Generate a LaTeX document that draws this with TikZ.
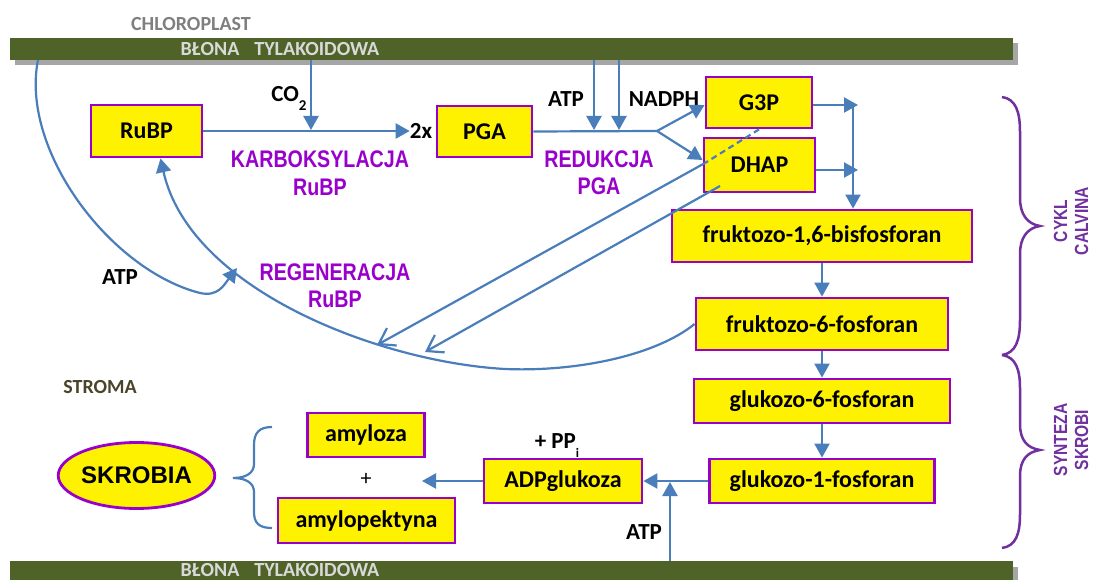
\documentclass[tikz,border=0pt]{standalone}
\usepackage{fontspec}
\setmainfont{Carlito}
\newfontfamily\arialf{Liberation Sans}
\newfontfamily\narrowf[FakeStretch=0.82]{Liberation Sans}
\usetikzlibrary{arrows.meta,shapes.geometric}
\definecolor{barg}{HTML}{4F6228}
\definecolor{shadowgray}{HTML}{A6A6A6}
\definecolor{bartxt}{HTML}{D9D9D9}
\definecolor{chlorog}{HTML}{7F7F7F}
\definecolor{stromac}{HTML}{4A452A}
\definecolor{lineblue}{HTML}{4A7EBB}
\definecolor{boxpurple}{HTML}{9900CC}
\definecolor{procpurple}{HTML}{9900CC}
\definecolor{bracepurple}{HTML}{7030A0}
\begin{document}
\begin{tikzpicture}[x=1pt,y=-1pt,
  conn/.style={draw=lineblue, line width=2.2pt},
  arr/.style={conn, -{Triangle[width=15pt,length=14pt]}},
  oarr/.style={conn, -{Straight Barb[length=15pt,width=20pt,line width=2.2pt]}},
  box/.style={draw=boxpurple, line width=2.8pt, fill=yellow, inner sep=0pt,
    font=\fontsize{24}{28}\selectfont\bfseries},
  lbl/.style={inner sep=0pt, font=\fontsize{23}{26}\selectfont\bfseries},
  proc/.style={inner sep=0pt, text=procpurple, align=center,
    font=\narrowf\fontsize{24}{27.5}\selectfont\bfseries},
  side/.style={inner sep=0pt, text=bracepurple, align=center, rotate=90,
    font=\narrowf\fontsize{19}{21}\selectfont\bfseries},
  bartext/.style={inner sep=0pt, text=bartxt, font=\fontsize{20}{22}\selectfont\bfseries},
  brace/.style={draw=bracepurple, line width=2.5pt}
]
\useasboundingbox (0,0) rectangle (1093,580);
\fill[white] (0,0) rectangle (1093,580);

% membranes
\fill[shadowgray] (15,43) rectangle (1018,65);
\fill[barg] (10,38) rectangle (1013,60);
\fill[shadowgray] (15,567) rectangle (1018,580);
\fill[barg] (10,561) rectangle (1013,580);
\node[bartext] (bt1) at (280,49) {BŁONA\hspace{15pt}TYLAKOIDOWA};
\node[bartext] (bt2) at (280,570) {BŁONA\hspace{15pt}TYLAKOIDOWA};
\node[inner sep=0pt, text=chlorog, font=\fontsize{20}{22}\selectfont\bfseries] (chloro) at (191,24) {CHLOROPLAST};
\node[inner sep=0pt, text=stromac, font=\fontsize{20}{22}\selectfont\bfseries] (stroma) at (100,387) {STROMA};

% boxes
\node[box, minimum width=111pt, minimum height=52pt] (rubp) at (146.5,131) {RuBP};
\node[box, minimum width=95pt, minimum height=51pt] (pga) at (484.5,131.5) {PGA};
\node[box, minimum width=106pt, minimum height=51pt] (g3p) at (759,102.5) {G3P};
\node[box, minimum width=111pt, minimum height=54pt] (dhap) at (759.5,165) {DHAP};
\node[box, minimum width=300pt, minimum height=52pt] (f16) at (822,236) {fruktozo-1,6-bisfosforan};
\node[box, minimum width=252pt, minimum height=52pt] (f6) at (822,324) {fruktozo-6-fosforan};
\node[box, minimum width=256pt, minimum height=44pt] (g6) at (822,401) {glukozo-6-fosforan};
\node[box, minimum width=225pt, minimum height=44pt] (g1) at (822,481) {glukozo-1-fosforan};
\node[box, minimum width=158pt, minimum height=44pt] (adp) at (563,481) {ADPglukoza};
\node[box, minimum width=117pt, minimum height=44pt] (amyl) at (366,435) {amyloza};
\node[box, minimum width=177pt, minimum height=45pt] (amylp) at (366.5,520.5) {amylopektyna};
\node[ellipse, draw=boxpurple, line width=2.8pt, fill=yellow, inner sep=0pt,
  minimum width=149pt, minimum height=66pt, font=\arialf\fontsize{24}{28}\selectfont\bfseries]
  (skrobia) at (136.5,475.5) {SKROBIA};

% labels
\node[lbl] (co2) at (289,98) {CO\raisebox{-9pt}{\fontsize{15}{15}\selectfont 2}};
\node[lbl] (two) at (421,131) {2x};
\node[lbl] (atp1) at (566,99) {ATP};
\node[lbl] (nadph) at (664,99) {NADPH};
\node[lbl] (atp2) at (120,277) {ATP};
\node[lbl] (ppi) at (557,446) {+ PP\raisebox{-9pt}{\fontsize{13}{13}\selectfont i}};
\node[lbl] (atp3) at (644,532) {ATP};
\node[inner sep=0pt, font=\fontsize{22}{24}\selectfont] (plus) at (366,479) {+};
\node[proc] (karb) at (320,173) {KARBOKSYLACJA\\RuBP};
\node[proc] (red) at (599,172.5) {REDUKCJA\\PGA};
\node[proc] (reg) at (335,285.5) {REGENERACJA\\RuBP};
\node[side] (cykl) at (1071,221) {CYKL\\CALVINA};
\node[side] (synt) at (1071,440) {SYNTEZA\\SKROBI};

% coordinates
\coordinate (co2top) at (311,60);
\coordinate (co2end) at (311,130);
\coordinate (atptop) at (594,60);
\coordinate (atpend) at (594,130);
\coordinate (nadtop) at (619,60);
\coordinate (nadend) at (619,130);
\coordinate (branch) at (657,131);
\coordinate (g3pend) at (858,105);
\coordinate (dhapend) at (858,170);
\coordinate (vtop) at (853,105);
\coordinate (l1mid) at (705,163);
\coordinate (l1tip) at (377,345);
\coordinate (l2start) at (720,186);
\coordinate (l2tip) at (425,352);
\coordinate (regmid) at (505,369);
\coordinate (atpstart) at (38,60);
\coordinate (atpmid) at (200,293);
\coordinate (atptip) at (237,268);
\coordinate (atpbot) at (670,561);
\coordinate (atpbend) at (670,482);
\coordinate (amyend) at (422,481);

% connectors
\draw[arr] (rubp.east) -- (two.west);
\draw[arr] (co2top) -- (co2end);
\draw[conn] (pga.east) -- (branch);
\draw[arr] (atptop) -- (atpend);
\draw[arr] (nadtop) -- (nadend);
\draw[arr] (branch) -- ([yshift=-2.5pt]g3p.west);
\draw[arr] (branch) -- ([yshift=5pt]dhap.west);
\draw[arr] ([yshift=-2.5pt]g3p.east) -- (g3pend);
\draw[arr] ([yshift=-5pt]dhap.east) -- (dhapend);
\draw[arr] (vtop) -- (vtop |- f16.north);
\draw[arr] (f16.south) -- (f6.north);
\draw[arr] (f6.south) -- (g6.north);
\draw[arr] (g6.south) -- (g1.north);
\draw[arr] (g1.west) -- (adp.east);
\draw[arr] (atpbot) -- (atpbend);
\draw[arr] (adp.west) -- (amyend);
\draw[conn, dash pattern=on 6pt off 4pt] (g3p.south) -- (l1mid);
\draw[oarr] (l1mid) -- (l1tip);
\draw[oarr] (l2start) -- (l2tip);
\draw[arr] (f6.west) .. controls (655,356) and (575,372) .. (regmid)
  .. controls (380,362) and (190,290) .. ([xshift=14pt]rubp.south);
\draw[arr] (atpstart) .. controls (20,150) and (110,270) .. (atpmid)
  .. controls (218,297) and (224,285) .. (atptip);

% braces
\draw[brace] (1002,97) .. controls (1016,99) and (1020,112) .. (1020,132)
  -- (1020,198) .. controls (1020,214) and (1027,224) .. (1040,226)
  .. controls (1027,228) and (1020,238) .. (1020,254)
  -- (1020,320) .. controls (1020,340) and (1016,353) .. (1002,355);
\draw[brace] (1002,355) .. controls (1016,357) and (1020,370) .. (1020,388)
  -- (1020,424) .. controls (1020,440) and (1027,448) .. (1040,450)
  .. controls (1027,452) and (1020,460) .. (1020,476)
  -- (1020,514) .. controls (1020,534) and (1016,546) .. (1002,548);
\draw[conn] (272,427) .. controls (259,427) and (254,433) .. (254,445)
  -- (254,464) .. controls (254,473) and (246,478) .. (233,478)
  .. controls (246,478) and (254,483) .. (254,492)
  -- (254,512) .. controls (254,523) and (259,528) .. (272,528);
\end{tikzpicture}
\end{document}
